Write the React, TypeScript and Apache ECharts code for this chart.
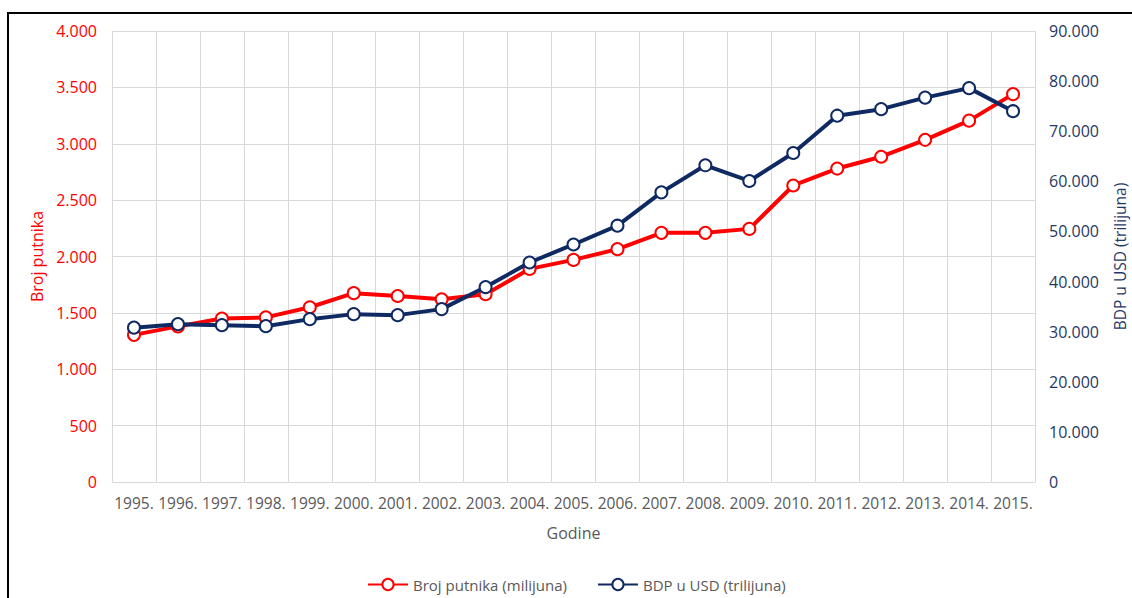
import React, { useEffect, useRef } from "react";
import * as echarts from "echarts";

const years = [
  "1995.", "1996.", "1997.", "1998.", "1999.", "2000.", "2001.", "2002.", "2003.", "2004.",
  "2005.", "2006.", "2007.", "2008.", "2009.", "2010.", "2011.", "2012.", "2013.", "2014.", "2015.",
];
const putnici = [
  1305, 1380, 1450, 1460, 1550, 1675, 1650, 1620, 1665, 1890,
  1970, 2065, 2210, 2210, 2245, 2630, 2780, 2885, 3035, 3205, 3440,
];
const bdp = [
  30800, 31500, 31300, 31100, 32500, 33500, 33300, 34500, 38900, 43800,
  47400, 51150, 57800, 63200, 60070, 65650, 73100, 74400, 76700, 78600, 74000,
];
const leftTicks = { min: 0, max: 4000, interval: 500 };
const rightTicks = { min: 0, max: 90000, interval: 10000 };

const RED = "#ff0000";
const NAVY = "#0f2a62";
const NAVY_TEXT = "#1f3864";
const GRAY = "#595959";
const GRID = "#d9d9d9";
const FONT = "Open Sans";

const fmt = (v: number) => {
  const s = Math.round(v).toString();
  return s.replace(/\B(?=(\d{3})+(?!\d))/g, ".");
};

export default function App() {
  const ref = useRef<HTMLDivElement>(null);
  useEffect(() => {
    document.body.style.margin = "0";
    document.documentElement.style.overflow = "hidden";
    if (!ref.current) return;
    const chart = echarts.init(ref.current, undefined, { renderer: "svg" });
    chart.setOption({
      animation: false,
      textStyle: { fontFamily: FONT },
      grid: { left: 112, right: 97, top: 31, bottom: 116, outerBoundsMode: "none", containLabel: false },
      legend: {
        bottom: 1,
        left: 362,
        itemWidth: 40,
        itemHeight: 14,
        itemGap: 30,
        textStyle: { color: GRAY, fontSize: 15, fontFamily: FONT },
        data: ["Broj putnika (milijuna)", "BDP u USD (trilijuna)"],
      },
      xAxis: {
        type: "category",
        data: years,
        boundaryGap: true,
        name: "Godine",
        nameLocation: "middle",
        nameGap: 43,
        nameTextStyle: { color: GRAY, fontSize: 16, fontFamily: FONT },
        axisLine: { lineStyle: { color: GRID, width: 1 } },
        axisTick: { show: false },
        axisLabel: { color: GRAY, fontSize: 15.5, margin: 13, interval: 0, fontFamily: FONT },
        splitLine: { show: true, interval: 0, lineStyle: { color: GRID, width: 1 } },
      },
      yAxis: [
        {
          type: "value",
          ...leftTicks,
          position: "left",
          name: "Broj putnika",
          nameLocation: "middle",
          nameRotate: 90,
          nameGap: 64,
          nameTextStyle: { color: RED, fontSize: 16, fontFamily: FONT },
          axisLine: { show: false },
          axisTick: { show: false },
          axisLabel: { color: RED, fontSize: 16, margin: 15, formatter: fmt, fontFamily: FONT },
          splitLine: { show: true, lineStyle: { color: GRID, width: 1 } },
        },
        {
          type: "value",
          ...rightTicks,
          position: "right",
          name: "BDP u USD (trilijuna)",
          nameLocation: "middle",
          nameRotate: 90,
          nameGap: 77,
          nameTextStyle: { color: NAVY_TEXT, fontSize: 15.5, fontFamily: FONT },
          axisLine: { show: false },
          axisTick: { show: false },
          axisLabel: { color: NAVY_TEXT, fontSize: 16, margin: 14, formatter: fmt, fontFamily: FONT },
          splitLine: { show: false },
        },
      ],
      series: [
        {
          name: "Broj putnika (milijuna)",
          type: "line",
          yAxisIndex: 0,
          data: putnici,
          symbol: "circle",
          symbolSize: 12,
          showAllSymbol: true,
          lineStyle: { color: RED, width: 4 },
          itemStyle: { color: "#ffffff", borderColor: RED, borderWidth: 2 },
          z: 3,
        },
        {
          name: "BDP u USD (trilijuna)",
          type: "line",
          yAxisIndex: 1,
          data: bdp,
          symbol: "circle",
          symbolSize: 12,
          showAllSymbol: true,
          lineStyle: { color: NAVY, width: 4 },
          itemStyle: { color: "#ffffff", borderColor: NAVY, borderWidth: 2 },
          z: 4,
        },
      ],
    });
    return () => chart.dispose();
  }, []);
  return (
    <div style={{ position: "relative", width: 1132, height: 598, background: "#fff", overflow: "hidden" }}>
      <div
        style={{
          position: "absolute",
          left: 7,
          top: 12,
          right: 0,
          bottom: 0,
          borderLeft: "2px solid #000",
          borderTop: "2px solid #000",
        }}
      />
      <div ref={ref} style={{ position: "absolute", left: 0, top: 0, width: 1132, height: 598 }} />
    </div>
  );
}
